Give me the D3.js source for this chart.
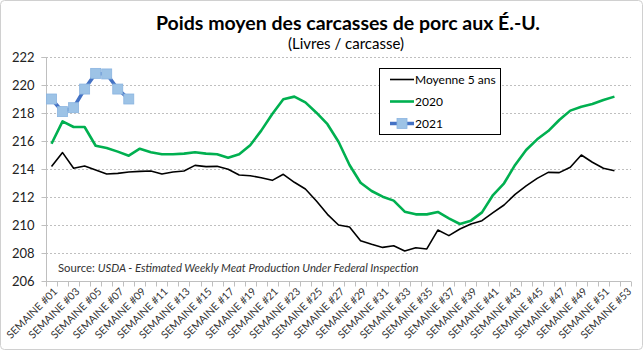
<!DOCTYPE html>
<html><head><meta charset="utf-8">
<script src="https://cdn.jsdelivr.net/npm/d3@7/dist/d3.min.js"></script>
<style>
html,body{margin:0;padding:0;background:#fff;}
svg{display:block;font-family:Lato, "Open Sans", sans-serif;}
</style></head>
<body><svg id="c" width="643" height="350"></svg>
<script>
const weeks = d3.range(1,54).map(i => "SEMAINE #" + String(i).padStart(2,"0"));
const moyenne5 = [214.17,215.17,214.05,214.21,213.93,213.64,213.69,213.79,213.83,213.86,213.64,213.79,213.86,214.26,214.17,214.19,213.98,213.57,213.52,213.38,213.19,213.62,213.05,212.57,211.71,210.76,210.0,209.86,208.88,208.62,208.40,208.52,208.14,208.38,208.29,209.64,209.24,209.71,210.07,210.31,210.88,211.43,212.19,212.79,213.33,213.76,213.74,214.12,215.0,214.48,214.05,213.88];
const y2020 = [215.8,217.4,217.0,217.0,215.66,215.5,215.24,214.95,215.45,215.2,215.05,215.05,215.1,215.2,215.1,215.05,214.8,215.05,215.7,216.74,217.93,218.98,219.17,218.76,218.02,217.2,215.95,214.29,213.02,212.43,212.02,211.74,210.95,210.76,210.76,210.93,210.48,210.07,210.31,210.9,212.14,212.98,214.29,215.36,216.12,216.71,217.5,218.17,218.45,218.64,218.93,219.17];
const y2021 = [219.0,218.1,218.38,219.71,220.83,220.79,219.71,219.0];
const yTicks = [206,208,210,212,214,216,218,220,222];
const seriesNames = ["Moyenne 5 ans","2020","2021"];

const svg = d3.select("#c");
const L=46, R=631, T=57, B=281;
const x = d3.scaleBand().domain(weeks).range([L,R]);
const y = d3.scaleLinear().domain([206,222]).range([B,T]);
const cx = w => x(w) + x.bandwidth()/2;

svg.append("rect").attr("x",0.5).attr("y",0.5).attr("width",642).attr("height",349)
  .attr("rx",4).attr("fill","#fff").attr("stroke","#d0d0d0");

// title
svg.append("text").attr("x",348).attr("y",30).attr("text-anchor","middle")
  .attr("font-size",19.5).attr("font-weight","bold").attr("fill","#000")
  .text("Poids moyen des carcasses de porc aux É.-U.");
svg.append("text").attr("x",346).attr("y",49).attr("text-anchor","middle")
  .attr("font-size",15).attr("fill","#000").text("(Livres / carcasse)");

// grid
svg.append("g").selectAll("line").data(yTicks.filter(v=>v>206)).join("line")
  .attr("x1",L).attr("x2",R).attr("y1",d=>y(d)+0.5).attr("y2",d=>y(d)+0.5)
  .attr("stroke","#bfbfbf").attr("stroke-dasharray","2,2");

// y axis
const ya = svg.append("g").attr("transform",`translate(${L+0.5},0)`)
  .call(d3.axisLeft(y).tickValues(yTicks).tickSize(5).tickPadding(7).tickFormat(d3.format("d")));
ya.select(".domain").attr("stroke","#bfbfbf").attr("d",`M-5,${T+0.5}H0V${B+0.5}`);
ya.selectAll(".tick line").attr("stroke","#bfbfbf");
ya.selectAll(".tick text").attr("font-size",13).attr("fill","#222").attr("font-family","Lato, sans-serif");

// x axis
const xa = svg.append("g").attr("transform",`translate(0,${B+0.5})`);
xa.append("line").attr("x1",L).attr("x2",R).attr("stroke","#bfbfbf");
const bounds = weeks.map(w=>x(w)).concat([R]);
xa.selectAll("line.t").data(bounds).join("line").attr("class","t")
  .attr("x1",d=>Math.round(d)+0.5).attr("x2",d=>Math.round(d)+0.5).attr("y1",0).attr("y2",5).attr("stroke","#bfbfbf");
xa.selectAll("text").data(weeks.filter((w,i)=>i%2===0)).join("text")
  .attr("transform",d=>`translate(${cx(d)+4},${8}) rotate(-45)`)
  .attr("text-anchor","end").attr("dy","0.35em")
  .attr("font-size",10.5).attr("fill","#333").text(d=>d);

// source
const src = svg.append("text").attr("x",58).attr("y",272).attr("font-size",11.3).attr("fill","#333");
src.append("tspan").text("Source: ");
src.append("tspan").attr("font-style","italic").text("USDA - Estimated Weekly Meat Production Under Federal Inspection");

// lines
const line = d3.line().x((d,i)=>cx(weeks[i])).y(d=>y(d));
svg.append("path").datum(moyenne5).attr("d",line).attr("fill","none").attr("stroke","#000").attr("stroke-width",1.6).attr("stroke-linejoin","round");
svg.append("path").datum(y2020).attr("d",line).attr("fill","none").attr("stroke","#00B050").attr("stroke-width",2.6).attr("stroke-linejoin","round");
svg.append("path").datum(y2021).attr("d",line).attr("fill","none").attr("stroke","#4472C4").attr("stroke-width",3.5).attr("stroke-linejoin","round");
svg.append("g").selectAll("rect").data(y2021).join("rect")
  .attr("x",(d,i)=>cx(weeks[i])-5).attr("y",d=>y(d)-5).attr("width",10).attr("height",10)
  .attr("fill","#9DC3E6").attr("stroke","#8AB4E0").attr("stroke-width",0.8);

// legend
const lg = svg.append("g");
lg.append("rect").attr("x",379.5).attr("y",68.5).attr("width",121).attr("height",66).attr("fill","#fff").attr("stroke","#000");
const ly = [79.5,101.5,123.5];
const lstyle = [{c:"#000",w:1.6},{c:"#00B050",w:2.6},{c:"#4472C4",w:3.5}];
seriesNames.forEach((n,i)=>{
  lg.append("line").attr("x1",390).attr("x2",414).attr("y1",ly[i]).attr("y2",ly[i]).attr("stroke",lstyle[i].c).attr("stroke-width",lstyle[i].w);
  if(i===2) lg.append("rect").attr("x",397).attr("y",ly[i]-5).attr("width",10).attr("height",10).attr("fill","#9DC3E6").attr("stroke","#8AB4E0").attr("stroke-width",0.8);
  lg.append("text").attr("x",415).attr("y",ly[i]).attr("dy","0.35em").attr("font-size",12).attr("fill","#000").text(n);
});
</script></body></html>
